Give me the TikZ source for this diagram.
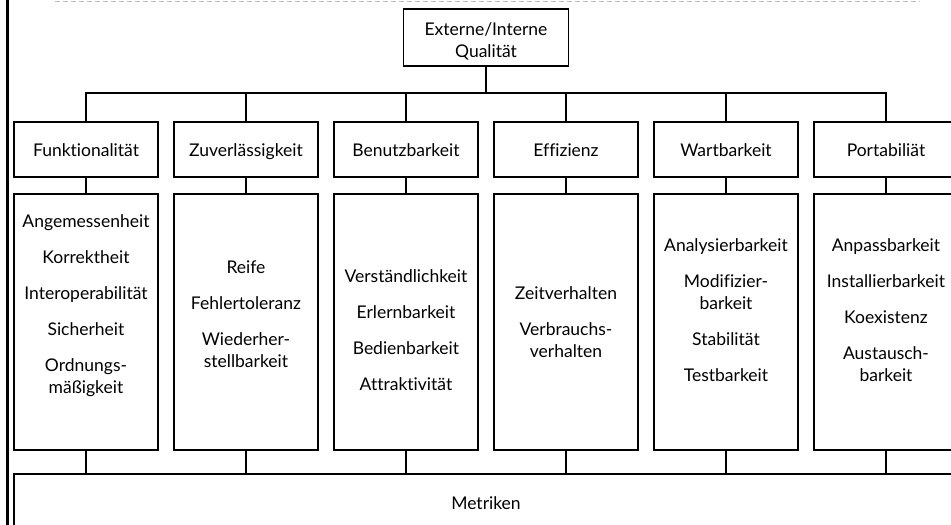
\documentclass[tikz,border=0pt]{standalone}
\usepackage{fontspec}
\setmainfont{Lato}[Ligatures=NoCommon]
\begin{document}
\begin{tikzpicture}[x=1pt,y=-1pt,
  box/.style={draw=black,line width=1.4pt,fill=white,font=\fontsize{17.5}{22}\selectfont,align=center,inner sep=0pt},
  catbox/.style={box,minimum width=144pt,minimum height=55pt,text height=15.5pt,text depth=1pt},
  plainbox/.style={draw=black,line width=1.4pt,fill=white,inner sep=0pt},
  detbox/.style={plainbox,minimum width=144pt,minimum height=256pt},
  dettext/.style={font=\fontsize{17.5}{22}\selectfont,align=center,inner sep=0pt},
  link/.style={draw=black,line width=1.5pt},
  thicklink/.style={draw=black,line width=2.4pt}]
\useasboundingbox (0,0) rectangle (951,525);
\clip (0,0) rectangle (951,525);
\draw[line width=2.4pt] (7.5,-2) -- (7.5,530);
\draw[draw={rgb,255:red,168;green,192;blue,216},line width=0.9pt,dash pattern=on 5pt off 3pt] (55,1.5) -- (920,1.5);

\node[plainbox,minimum width=165pt,minimum height=57pt] (q) at (486,37.5) {};
\node[dettext] (qt) at ([yshift=-3.5pt]q.center) {Externe/Interne\\Qualität};
\coordinate (bus) at (486,93);

\node[catbox] (c1) at (86,149.5) {Funktionalität};
\node[catbox] (c2) at (246,149.5) {Zuverlässigkeit};
\node[catbox] (c3) at (406,149.5) {Benutzbarkeit};
\node[catbox] (c4) at (566,149.5) {Effizienz};
\node[catbox] (c5) at (726,149.5) {Wartbarkeit};
\node[catbox] (c6) at (886,149.5) {Portabiliät};

\node[detbox] (d1) at (86,322) {};
\node[detbox] (d2) at (246,322) {};
\node[detbox] (d3) at (406,322) {};
\node[detbox] (d4) at (566,322) {};
\node[detbox] (d5) at (726,322) {};
\node[detbox] (d6) at (886,322) {};

\node[dettext] (t1) at ([yshift=16pt]d1.center) {Angemessenheit\\[14pt]Korrektheit\\[14pt]Interoperabilität\\[14pt]Sicherheit\\[14pt]Ordnungs-\\mäßigkeit};
\node[dettext] (t2) at ([yshift=8pt]d2.center) {Reife\\[14pt]Fehlertoleranz\\[14pt]Wiederher-\\stellbarkeit};
\node[dettext] (t3) at ([yshift=-8pt]d3.center) {Verständlichkeit\\[14pt]Erlernbarkeit\\[14pt]Bedienbarkeit\\[14pt]Attraktivität};
\node[dettext] (t4) at (d4.center) {Zeitverhalten\\[14pt]Verbrauchs-\\verhalten};
\node[dettext] (t5) at ([yshift=12pt]d5.center) {Analysierbarkeit\\[14pt]Modifizier-\\barkeit\\[14pt]Stabilität\\[14pt]Testbarkeit};
\node[dettext] (t6) at ([yshift=12pt]d6.center) {Anpassbarkeit\\[14pt]Installierbarkeit\\[14pt]Koexistenz\\[14pt]Austausch-\\barkeit};

\node[box,minimum width=944pt,minimum height=52pt,text height=19pt,text depth=0pt] (m) at (486,500) {Metriken};

\draw[link] (q.south) -- (bus);
\foreach \i in {1,...,6}{
  \draw[link] (c\i.north) |- (bus);
  \draw[thicklink] (c\i.south) -- (d\i.north);
  \draw[thicklink] (d\i.south) -- (d\i.south |- m.north);
}
\end{tikzpicture}
\end{document}
